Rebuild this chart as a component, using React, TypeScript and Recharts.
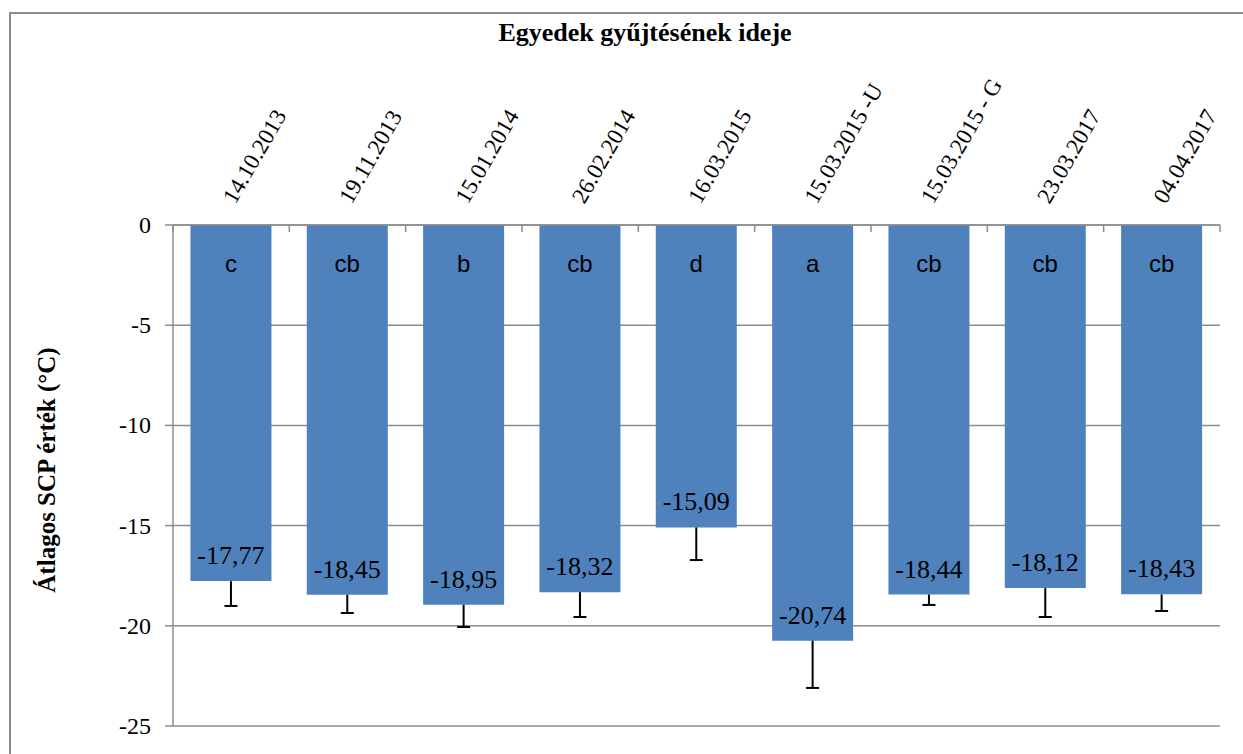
import { BarChart, Bar, XAxis, YAxis, CartesianGrid, LabelList } from "recharts";

const dates = [
  "14.10.2013",
  "19.11.2013",
  "15.01.2014",
  "26.02.2014",
  "16.03.2015",
  "15.03.2015 -U",
  "15.03.2015 - G",
  "23.03.2017",
  "04.04.2017",
];
const means = [-17.77, -18.45, -18.95, -18.32, -15.09, -20.74, -18.44, -18.12, -18.43];
const errors = [1.24, 0.91, 1.11, 1.24, 1.63, 2.36, 0.52, 1.44, 0.83];
const groups = ["c", "cb", "b", "cb", "d", "a", "cb", "cb", "cb"];
const yTicks = [0, -5, -10, -15, -20, -25];

const chartData = dates.map((date, i) => ({
  date,
  mean: means[i],
  err: errors[i],
  group: groups[i],
}));

const W = 1243;
const H = 754;
const PLOT_LEFT = 173;
const PLOT_RIGHT = 1220;
const PLOT_TOP = 225;
const PLOT_BOTTOM = 726;
const GRID = "#8c8c8c";
const SERIF = "Liberation Serif, Times New Roman, serif";
const SANS = "Liberation Sans, Arial, sans-serif";

const XTick = (props: any) => {
  const { x, index } = props;
  const band = (PLOT_RIGHT - PLOT_LEFT) / dates.length;
  const tx = x + 4;
  const ty = PLOT_TOP - 20;
  return (
    <g>
      <line x1={x - band / 2} x2={x - band / 2} y1={PLOT_TOP} y2={PLOT_TOP + 7} stroke={GRID} strokeWidth={1.5} />
      {index === dates.length - 1 && (
        <line x1={x + band / 2} x2={x + band / 2} y1={PLOT_TOP} y2={PLOT_TOP + 7} stroke={GRID} strokeWidth={1.5} />
      )}
      <text
        x={tx}
        y={ty}
        transform={`rotate(-60, ${tx}, ${ty})`}
        textAnchor="start"
        style={{ fontFamily: SERIF, fontSize: 23 }}
        fill="#000"
      >
        {props.payload.value}
      </text>
    </g>
  );
};

const YTick = (props: any) => {
  const { y, payload } = props;
  return (
    <text
      x={PLOT_LEFT - 22}
      y={y}
      dy={8}
      textAnchor="end"
      style={{ fontFamily: SERIF, fontSize: 24 }}
      fill="#000"
    >
      {payload.value}
    </text>
  );
};

// whisker drawn from the bar end down to mean - err
const ErrShape = (props: any) => {
  const { x, y, width, height } = props;
  const top = Math.min(y, y + height);
  const bottom = Math.max(y, y + height);
  const cx = x + width / 2;
  return (
    <g>
      <line x1={cx} x2={cx} y1={top} y2={bottom} stroke="#000" strokeWidth={2} />
      <line x1={cx - 6.5} x2={cx + 6.5} y1={bottom} y2={bottom} stroke="#000" strokeWidth={2} />
    </g>
  );
};

const GroupLabel = (props: any) => {
  const { x, y, width, height, value } = props;
  const top = Math.min(y, y + height);
  return (
    <text x={x + width / 2} y={top + 47} textAnchor="middle" style={{ fontFamily: SANS, fontSize: 24 }} fill="#000">
      {value}
    </text>
  );
};

const ValueLabel = (props: any) => {
  const { x, y, width, height, value } = props;
  const bottom = Math.max(y, y + height);
  return (
    <text x={x + width / 2} y={bottom - 17} textAnchor="middle" style={{ fontFamily: SERIF, fontSize: 26 }} fill="#000">
      {value.toFixed(2).replace(".", ",")}
    </text>
  );
};

export default function App() {
  return (
    <div style={{ position: "fixed", left: 0, top: 0, width: W, height: H, overflow: "hidden", background: "#fff" }}>
      <div
        style={{
          position: "absolute",
          left: 9,
          top: 12,
          width: W,
          height: H,
          borderTop: `2px solid ${GRID}`,
          borderLeft: `2px solid ${GRID}`,
        }}
      />
      <div
        style={{
          position: "absolute",
          left: 0,
          top: 18,
          width: 1290,
          textAlign: "center",
          fontFamily: SERIF,
          fontWeight: "bold",
          fontSize: 26,
          lineHeight: "30px",
        }}
      >
        Egyedek gyűjtésének ideje
      </div>
      <div style={{ position: "absolute", left: 47, top: 470, width: 0, height: 0 }}>
        <div
          style={{
            position: "absolute",
            left: 0,
            top: 0,
            transform: "translate(-50%, -50%) rotate(-90deg)",
            whiteSpace: "nowrap",
            fontFamily: SERIF,
            fontWeight: "bold",
            fontSize: 25,
          }}
        >
          Átlagos SCP érték (°C)
        </div>
      </div>
      <div style={{ position: "absolute", left: 0, top: 0 }}>
        <BarChart
          width={W}
          height={H}
          data={chartData}
          margin={{ top: PLOT_TOP - 30, right: W - PLOT_RIGHT, bottom: H - PLOT_BOTTOM, left: PLOT_LEFT - 60 }}
          barCategoryGap="15%"
        >
          <CartesianGrid vertical={false} stroke={GRID} strokeWidth={1.5} />
          <XAxis
            dataKey="date"
            orientation="top"
            height={30}
            axisLine={{ stroke: GRID, strokeWidth: 1.5 }}
            tickLine={false}
            tick={<XTick />}
            interval={0}
          />
          <XAxis dataKey="date" xAxisId="err" hide />
          <YAxis
            domain={[-25, 0]}
            ticks={yTicks}
            width={60}
            axisLine={{ stroke: GRID, strokeWidth: 1.5 }}
            tickLine={{ stroke: GRID, strokeWidth: 1.5 }}
            tickSize={8}
            tick={<YTick />}
          />
          <Bar dataKey="mean" fill="#4F81BD" isAnimationActive={false}>
            <LabelList dataKey="group" content={<GroupLabel />} />
            <LabelList dataKey="mean" content={<ValueLabel />} />
          </Bar>
          <Bar
            xAxisId="err"
            dataKey={(d: any) => [d.mean, d.mean - d.err]}
            shape={<ErrShape />}
            isAnimationActive={false}
          />
        </BarChart>
      </div>
    </div>
  );
}
